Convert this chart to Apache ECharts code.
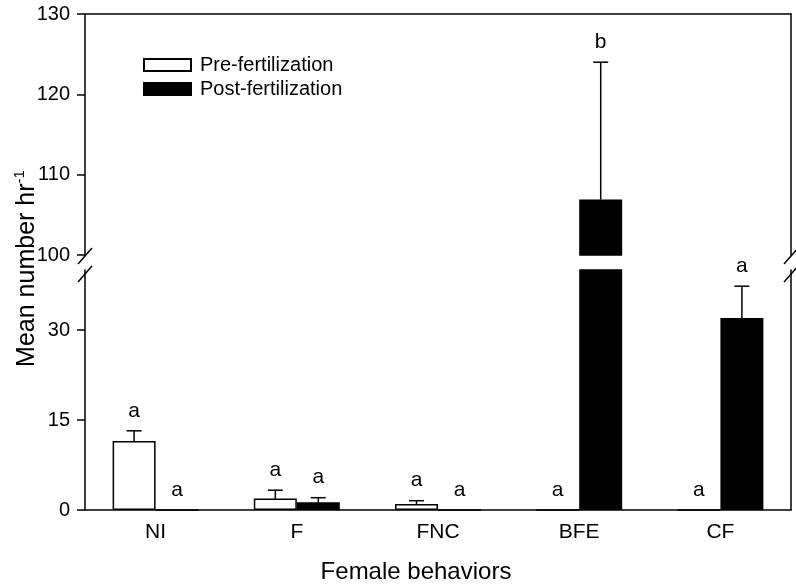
<!DOCTYPE html>
<html><head><meta charset="utf-8">
<script src="https://cdn.jsdelivr.net/npm/echarts@6/dist/echarts.min.js"></script>
<style>html,body{margin:0;padding:0;background:#fff}#c{width:796px;height:586px}</style>
</head><body><div id="c"></div>
<script>
const categories = ['NI', 'F', 'FNC', 'BFE', 'CF'];
const preMeans = [11.5, 1.9, 1.0, 0, 0];
const preSE = [1.7, 1.4, 0.55, 0, 0];
const postMeans = [0, 1.3, 0, 106.9, 32.0];
const postSE = [0, 0.75, 0, 17.1, 5.3];
const preLetters = ['a', 'a', 'a', 'a', 'a'];
const postLetters = ['a', 'a', 'a', 'b', 'a'];
const upperTicks = [100, 110, 120, 130];
const lowerTicks = [0, 15, 30];
const seriesNames = ['Pre-fertilization', 'Post-fertilization'];
const lowerRange = [0, 40];
const upperRange = [100, 130];

const FONT = '"Liberation Sans", Arial, Helvetica, sans-serif';
const BAR_W = 43;
const letters = [preLetters, postLetters];
const means = [preMeans, postMeans];
const ses = [preSE, postSE];

const errData = [];
for (let s = 0; s < 2; s++) {
  for (let i = 0; i < categories.length; i++) {
    errData.push([i, means[s][i], ses[s][i], s]);
  }
}

function makeErrRender(lo, hi) {
  return function (params, api) {
    const i = api.value(0), mean = api.value(1), se = api.value(2), s = api.value(3);
    const x = api.coord([i, lo])[0] + (s === 0 ? -BAR_W / 2 : BAR_W / 2);
    const top = mean + se;
    const children = [];
    if (se > 0 && top > lo && mean < hi) {
      const yA = api.coord([i, Math.max(mean, lo)])[1];
      const yB = api.coord([i, Math.min(top, hi)])[1];
      children.push({ type: 'line', shape: { x1: x, y1: yA, x2: x, y2: yB }, style: { stroke: '#000', lineWidth: 1.5 } });
      if (top <= hi) {
        children.push({ type: 'line', shape: { x1: x - 7.5, y1: yB, x2: x + 7.5, y2: yB }, style: { stroke: '#000', lineWidth: 1.5 } });
      }
    }
    if (top >= lo && top <= hi) {
      const yT = api.coord([i, top])[1] - 20;
      children.push({ type: 'text', style: { text: letters[s][i], x: x, y: yT, align: 'center', verticalAlign: 'middle', textAlign: 'center', textVerticalAlign: 'middle', fill: '#000', font: '21px ' + FONT } });
    }
    return { type: 'group', children: children };
  };
}

const axisLineStyle = { show: true, lineStyle: { color: '#000', width: 1.5 } };
const labelStyle = { color: '#000', fontSize: 20, fontFamily: FONT };

const chart = echarts.init(document.getElementById('c'), null, { renderer: 'canvas' });

const barStyles = [
  { color: '#fff', borderColor: '#000', borderWidth: 1.5 },
  { color: '#000', borderColor: '#000', borderWidth: 1.5 }
];

const series = [];
[0, 1].forEach(function (g) {
  [0, 1].forEach(function (s) {
    series.push({
      name: seriesNames[s], type: 'bar', xAxisIndex: g, yAxisIndex: g * 2,
      data: means[s], barWidth: BAR_W, barGap: '0%', clip: true,
      itemStyle: barStyles[s], emphasis: { disabled: true }, silent: true
    });
  });
  const rng = g === 0 ? upperRange : lowerRange;
  series.push({
    name: 'err' + g, type: 'custom', xAxisIndex: g, yAxisIndex: g * 2,
    data: errData, renderItem: makeErrRender(rng[0], rng[1]), clip: false, silent: true, z: 5
  });
});

const option = {
  animation: false,
  backgroundColor: '#fff',
  textStyle: { fontFamily: FONT },
  legend: {
    data: [
      { name: seriesNames[0], icon: 'rect' },
      { name: seriesNames[1], icon: 'rect' }
    ],
    orient: 'vertical', left: 143, top: 55, padding: 0, itemWidth: 47, itemHeight: 12, itemGap: 4,
    selectedMode: false,
    textStyle: { color: '#000', fontSize: 20, fontFamily: FONT, padding: [0, 0, 0, 4] }
  },
  grid: [
    { left: 85, right: 5, top: 14, height: 241 },
    { left: 85, right: 5, top: 270, bottom: 76 }
  ],
  xAxis: [
    { type: 'category', gridIndex: 0, data: categories, position: 'top',
      axisLine: axisLineStyle, axisTick: { show: false }, axisLabel: { show: false }, splitLine: { show: false } },
    { type: 'category', gridIndex: 1, data: categories, position: 'bottom',
      axisLine: axisLineStyle, axisTick: { show: false },
      axisLabel: { color: '#000', fontSize: 21, fontFamily: FONT, margin: 12 },
      name: 'Female behaviors', nameLocation: 'middle', nameGap: 50,
      nameTextStyle: { color: '#000', fontSize: 24, fontFamily: FONT, padding: [0, 44, 0, 0] } }
  ],
  yAxis: [
    { type: 'value', gridIndex: 0, min: upperRange[0], max: upperRange[1], position: 'left',
      axisLine: axisLineStyle, splitLine: { show: false },
      axisTick: { show: true, length: 8, lineStyle: { color: '#000', width: 1.5 }, customValues: upperTicks },
      axisLabel: Object.assign({ margin: 15, customValues: upperTicks }, labelStyle) },
    { type: 'value', gridIndex: 0, min: upperRange[0], max: upperRange[1], position: 'right',
      axisLine: axisLineStyle, splitLine: { show: false }, axisTick: { show: false }, axisLabel: { show: false } },
    { type: 'value', gridIndex: 1, min: lowerRange[0], max: lowerRange[1], position: 'left',
      axisLine: axisLineStyle, splitLine: { show: false },
      axisTick: { show: true, length: 8, lineStyle: { color: '#000', width: 1.5 }, customValues: lowerTicks },
      axisLabel: Object.assign({ margin: 15, customValues: lowerTicks }, labelStyle) },
    { type: 'value', gridIndex: 1, min: lowerRange[0], max: lowerRange[1], position: 'right',
      axisLine: axisLineStyle, splitLine: { show: false }, axisTick: { show: false }, axisLabel: { show: false } }
  ],
  series: series
};
chart.setOption(option);

// decorations: axis-break slashes and rotated y-axis title
const pUp = chart.convertToPixel({ xAxisIndex: 0, yAxisIndex: 0 }, [0, upperRange[0]]);
const pLo = chart.convertToPixel({ xAxisIndex: 1, yAxisIndex: 2 }, [0, lowerRange[1]]);
const gridRect = chart.getModel().getComponent('grid', 0).coordinateSystem.getRect();
const xs = [gridRect.x, gridRect.x + gridRect.width];
const ys = [pUp[1] + 1, pLo[1] + 4];
const graphics = [];
xs.forEach(function (x) {
  ys.forEach(function (y) {
    graphics.push({ type: 'line', shape: { x1: x - 7, y1: y + 8, x2: x + 7, y2: y - 8 }, style: { stroke: '#000', lineWidth: 1.5 }, z: 10 });
  });
});
graphics.push({
  type: 'text', x: 27, y: (pUp[1] + pLo[1]) / 2 + 6, rotation: Math.PI / 2, z: 10,
  style: {
    text: '{m|Mean number hr}{s|-1}',
    align: 'center', verticalAlign: 'middle', textAlign: 'center', textVerticalAlign: 'middle',
    rich: {
      m: { fontSize: 25, fontFamily: FONT, fill: '#000', color: '#000', lineHeight: 30, verticalAlign: 'middle' },
      s: { fontSize: 15, fontFamily: FONT, fill: '#000', color: '#000', lineHeight: 15, verticalAlign: 'top' }
    },
    fill: '#000'
  }
});
chart.setOption({ graphic: graphics });
</script>
</body></html>
